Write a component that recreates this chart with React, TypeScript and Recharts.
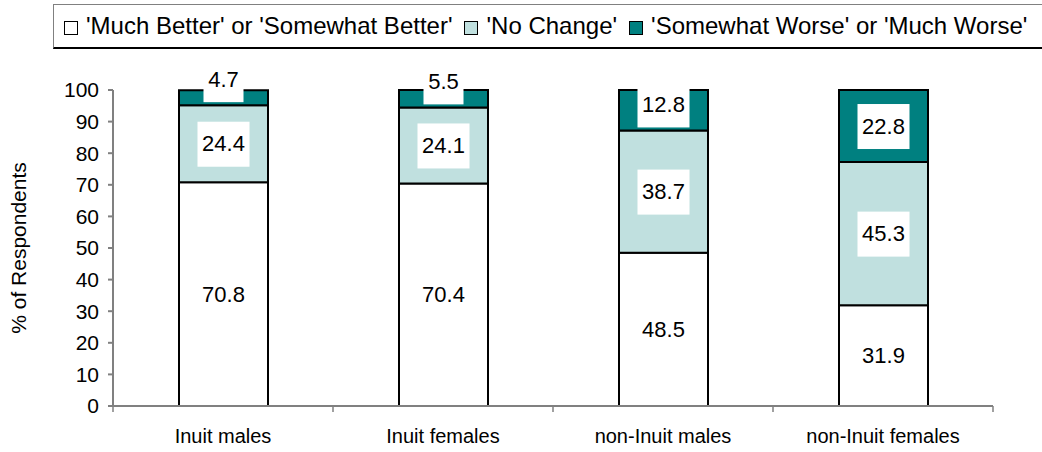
import { Bar, BarChart, Label, LabelList, Legend, XAxis, YAxis } from "recharts";

const CATEGORIES = ["Inuit males", "Inuit females", "non-Inuit males", "non-Inuit females"];
const BETTER = [70.8, 70.4, 48.5, 31.9];
const NO_CHANGE = [24.4, 24.1, 38.7, 45.3];
const WORSE = [4.7, 5.5, 12.8, 22.8];
const Y_TICKS = [0, 10, 20, 30, 40, 50, 60, 70, 80, 90, 100];

const SERIES = [
  { key: "better", name: "'Much Better' or 'Somewhat Better'", fill: "#ffffff" },
  { key: "same", name: "'No Change'", fill: "#c0e0df" },
  { key: "worse", name: "'Somewhat Worse' or 'Much Worse'", fill: "#008080" },
];

const data = CATEGORIES.map((category, i) => ({
  category,
  better: BETTER[i],
  same: NO_CHANGE[i],
  worse: WORSE[i],
}));

const FONT = "'Liberation Sans', Arial, sans-serif";
const AXIS = "#808080";
const W = 1042;
const H = 452;
const MARGIN = { top: 45, right: 49, bottom: 0, left: 0 };
const Y_AXIS_W = 113;
const X_AXIS_H = 46;
const BAND = (W - MARGIN.left - MARGIN.right - Y_AXIS_W) / CATEGORIES.length;

// white box with the segment value; short segments push the box upward
function ValueBox(props: any) {
  const { x, y, width, height, value } = props;
  const text = Number(value).toFixed(1);
  const cx = x + width / 2;
  const cy = Math.min(y + height / 2, y + height - 26);
  const w = text.length * 12 + 4;
  return (
    <g>
      <rect x={cx - w / 2} y={cy - 22} width={w} height={45} fill="#ffffff" />
      <text x={cx} y={cy} textAnchor="middle" dominantBaseline="central" fontSize={22} fontFamily={FONT} fill="#000">
        {text}
      </text>
    </g>
  );
}

// category label with tick marks on the band boundaries
function CategoryTick(props: any) {
  const { x, y, payload, index } = props;
  const left = x - BAND / 2;
  const right = x + BAND / 2;
  return (
    <g>
      <line x1={left} x2={left} y1={y} y2={y + 6} stroke={AXIS} strokeWidth={1.5} />
      {index === CATEGORIES.length - 1 && (
        <line x1={right} x2={right} y1={y} y2={y + 6} stroke={AXIS} strokeWidth={1.5} />
      )}
      <text x={x} y={y + 30} textAnchor="middle" dominantBaseline="central" fontSize={20} fontFamily={FONT} fill="#000">
        {payload.value}
      </text>
    </g>
  );
}

function LegendBox(props: any) {
  const items = props.payload || [];
  return (
    <div
      style={{
        boxSizing: "border-box",
        height: 45,
        width: 1000,
        border: "1px solid #808080",
        borderBottom: "2px solid #000",
        display: "flex",
        alignItems: "center",
        paddingLeft: 10,
        fontFamily: FONT,
        fontSize: 24,
        whiteSpace: "nowrap",
        background: "#fff",
      }}
    >
      {items.map((item: any) => (
        <span key={item.value} style={{ display: "flex", alignItems: "center", marginRight: 12 }}>
          <span
            style={{
              display: "inline-block",
              width: 12,
              height: 12,
              border: "1px solid #000",
              background: item.color,
              marginRight: 8,
              marginTop: 4,
            }}
          />
          {item.value}
        </span>
      ))}
    </div>
  );
}

export default function App() {
  return (
    <div style={{ position: "absolute", left: 0, top: 0, width: W, height: H, overflow: "hidden", background: "#fff" }}>
      <BarChart width={W} height={H} data={data} margin={MARGIN} barSize={89}>
        <Legend verticalAlign="top" content={<LegendBox />} wrapperStyle={{ top: 4, left: 53, width: 1000 }} />
        <XAxis
          dataKey="category"
          height={X_AXIS_H}
          stroke={AXIS}
          strokeWidth={2}
          tickLine={false}
          tickSize={0}
          tickMargin={0}
          interval={0}
          tick={<CategoryTick />}
        />
        <YAxis
          width={Y_AXIS_W}
          domain={[0, 100]}
          ticks={Y_TICKS}
          interval={0}
          stroke={AXIS}
          strokeWidth={2}
          tickSize={5}
          tickMargin={9}
          tick={{ fill: "#000", fontSize: 21, fontFamily: FONT }}
        >
          <Label
            content={(p: any) => {
              const vb = p.viewBox || {};
              const cy = vb.y + vb.height / 2;
              return (
                <text
                  x={18}
                  y={cy}
                  transform={`rotate(-90 18 ${cy})`}
                  textAnchor="middle"
                  dominantBaseline="central"
                  fontSize={21}
                  fontFamily={FONT}
                  fill="#000"
                >
                  % of Respondents
                </text>
              );
            }}
          />
        </YAxis>
        {SERIES.map((s) => (
          <Bar
            key={s.key}
            dataKey={s.key}
            name={s.name}
            stackId="a"
            fill={s.fill}
            stroke="#000"
            strokeWidth={2}
            isAnimationActive={false}
          >
            <LabelList dataKey={s.key} content={<ValueBox />} />
          </Bar>
        ))}
      </BarChart>
    </div>
  );
}
